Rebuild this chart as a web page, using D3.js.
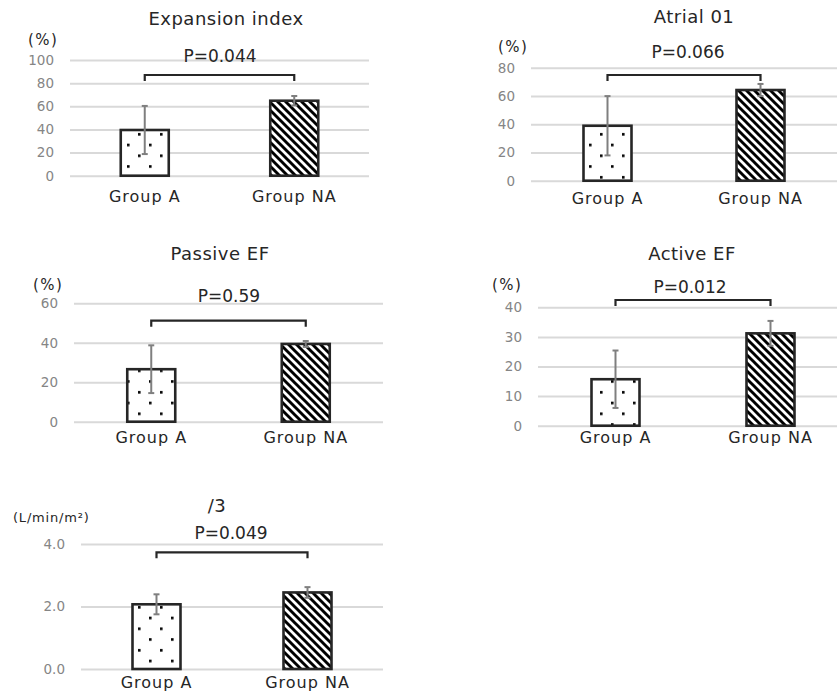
<!DOCTYPE html>
<html>
<head>
<meta charset="utf-8">
<script src="https://cdn.jsdelivr.net/npm/d3@7"></script>
<style>
  body { margin: 0; background: #fff; }
  svg { display: block; font-family: "DejaVu Sans", Verdana, sans-serif; }
</style>
</head>
<body>
<div id="chart"></div>
<script>
// data
const groups = ["Group A", "Group NA"]
const titles = ["Expansion index", "Atrial 01", "Passive EF", "Active EF", "/3"]
const units = ["(%)", "(%)", "(%)", "(%)", "(L/min/m\u00b2)"]
const pLabels = ["P=0.044", "P=0.066", "P=0.59", "P=0.012", "P=0.049"]
const means = [[39.5, 64.8], [38.9, 64.2], [26.6, 39.4], [15.7, 31.2], [2.07, 2.45]]
const sds = [[20.8, 4.1], [21.0, 4.3], [12.1, 1.5], [9.7, 4.2], [0.32, 0.17]]
const yMax = [100, 80, 60, 40, 4]
const yTicks = [
    [0, 20, 40, 60, 80, 100],
    [0, 20, 40, 60, 80],
    [0, 20, 40, 60],
    [0, 10, 20, 30, 40],
    [0, 2, 4]
]
const tickFormats = ["d", "d", "d", "d", ".1f"]

// where each small chart sits on the page
const layout = [
    { x0: 70, x1: 369, yTop: 60, y0: 175.7, titleX: 226, titleY: 25, unitX: 28, unitY: 45, pX: 220, pY: 62, bracketY: 75, labelY: 202 },
    { x0: 531, x1: 837, yTop: 67.7, y0: 180.7, titleX: 694, titleY: 23, unitX: 498, unitY: 52, pX: 688, pY: 58, bracketY: 75, labelY: 204 },
    { x0: 74, x1: 383, yTop: 303.3, y0: 421.7, titleX: 220, titleY: 260, unitX: 33, unitY: 290, pX: 229, pY: 302, bracketY: 320.7, labelY: 443 },
    { x0: 538, x1: 848, yTop: 307.3, y0: 425.7, titleX: 692, titleY: 260, unitX: 492, unitY: 290, pX: 690, pY: 293, bracketY: 300, labelY: 443 },
    { x0: 81, x1: 383, yTop: 544, y0: 669, titleX: 217, titleY: 512, unitX: 13, unitY: 522, pX: 231, pY: 539, bracketY: 552.3, labelY: 688 }
]

const width = 837, height = 694
const font = "'DejaVu Sans', Verdana, sans-serif"
const ink = "#262626"

const svg = d3.select("#chart")
    .append("svg")
    .attr("width", width)
    .attr("height", height)

// fill patterns: sparse dots for Group A, wide downward diagonal for Group NA
const defs = svg.append("defs")

const dots = defs.append("pattern")
    .attr("id", "dots")
    .attr("patternUnits", "userSpaceOnUse")
    .attr("width", 22)
    .attr("height", 21.5)
dots.append("rect").attr("width", 22).attr("height", 21.5).attr("fill", "#fff")
dots.append("rect").attr("x", 6).attr("y", 4).attr("width", 2.6).attr("height", 2.6).attr("fill", "#000")
dots.append("rect").attr("x", 17).attr("y", 14.7).attr("width", 2.6).attr("height", 2.6).attr("fill", "#000")

const stripes = defs.append("pattern")
    .attr("id", "stripes")
    .attr("patternUnits", "userSpaceOnUse")
    .attr("width", 8)
    .attr("height", 8)
stripes.append("rect").attr("width", 8).attr("height", 8).attr("fill", "#fff")
stripes.append("path")
    .attr("d", "M-1,-1 L9,9 M-3,5 L3,11 M5,-3 L11,3")
    .attr("stroke", "#000")
    .attr("stroke-width", 2.9)

const fills = ["url(#dots)", "url(#stripes)"]

function drawPanel(i) {
    const L = layout[i]

    const x = d3.scaleBand()
        .domain(groups)
        .range([L.x0, L.x1])

    const y = d3.scaleLinear()
        .domain([0, yMax[i]])
        .range([L.y0, L.yTop])

    const g = svg.append("g")

    // gridlines + tick labels
    const axis = g.append("g")
        .attr("transform", "translate(" + L.x0 + ",0)")
        .call(d3.axisLeft(y)
            .tickValues(yTicks[i])
            .tickFormat(d3.format(tickFormats[i]))
            .tickSizeInner(-(L.x1 - L.x0))
            .tickSizeOuter(0)
            .tickPadding(16))
        .attr("font-family", font)
        .attr("font-size", 13.5)
    axis.select(".domain").remove()
    axis.selectAll(".tick line").attr("stroke", "#d9d9d9").attr("stroke-width", 2)
    axis.selectAll(".tick text").attr("fill", "#858585")

    const bw = 48
    const rows = groups.map((k, j) => ({ group: k, mean: means[i][j], sd: sds[i][j], fill: fills[j] }))

    g.selectAll(".bar")
        .data(rows)
        .enter()
        .append("rect")
        .attr("class", "bar")
        .attr("x", d => x(d.group) + x.bandwidth() / 2 - bw / 2)
        .attr("y", d => y(d.mean))
        .attr("width", bw)
        .attr("height", d => y(0) - y(d.mean))
        .attr("fill", d => d.fill)
        .attr("stroke", ink)
        .attr("stroke-width", 2.6)

    // error bars
    const eb = g.selectAll(".err")
        .data(rows)
        .enter()
        .append("g")
        .attr("class", "err")
        .attr("stroke", "#7f7f7f")
        .attr("stroke-width", 2)

    eb.append("line")
        .attr("x1", d => x(d.group) + x.bandwidth() / 2)
        .attr("x2", d => x(d.group) + x.bandwidth() / 2)
        .attr("y1", d => y(d.mean - d.sd))
        .attr("y2", d => y(d.mean + d.sd))
    eb.append("line")
        .attr("x1", d => x(d.group) + x.bandwidth() / 2 - 3)
        .attr("x2", d => x(d.group) + x.bandwidth() / 2 + 3)
        .attr("y1", d => y(d.mean + d.sd))
        .attr("y2", d => y(d.mean + d.sd))
    eb.append("line")
        .attr("x1", d => x(d.group) + x.bandwidth() / 2 - 3)
        .attr("x2", d => x(d.group) + x.bandwidth() / 2 + 3)
        .attr("y1", d => y(d.mean - d.sd))
        .attr("y2", d => y(d.mean - d.sd))

    // significance bracket
    const bx1 = x(groups[0]) + x.bandwidth() / 2
    const bx2 = x(groups[1]) + x.bandwidth() / 2
    g.append("path")
        .attr("d", "M" + bx1 + "," + (L.bracketY + 6) + " V" + L.bracketY + " H" + bx2 + " V" + (L.bracketY + 6))
        .attr("fill", "none")
        .attr("stroke", ink)
        .attr("stroke-width", 2.2)

    g.append("text")
        .attr("x", L.pX)
        .attr("y", L.pY)
        .attr("text-anchor", "middle")
        .attr("fill", ink)
        .attr("font-family", font)
        .attr("font-size", 17)
        .text(pLabels[i])

    g.append("text")
        .attr("x", L.titleX)
        .attr("y", L.titleY)
        .attr("text-anchor", "middle")
        .attr("fill", ink)
        .attr("font-family", font)
        .attr("font-size", 18)
        .attr("letter-spacing", 0.5)
        .text(titles[i])

    g.append("text")
        .attr("x", L.unitX)
        .attr("y", L.unitY)
        .attr("fill", ink)
        .attr("font-family", font)
        .attr("font-size", i == 4 ? 13 : 15)
        .attr("letter-spacing", i == 4 ? 0.8 : 1.5)
        .text(units[i])

    g.selectAll(".group-label")
        .data(groups)
        .enter()
        .append("text")
        .attr("class", "group-label")
        .attr("x", d => x(d) + x.bandwidth() / 2)
        .attr("y", L.labelY)
        .attr("text-anchor", "middle")
        .attr("fill", ink)
        .attr("font-family", font)
        .attr("font-size", 16)
        .attr("letter-spacing", 1)
        .text(d => d)
}

titles.forEach((t, i) => drawPanel(i))
</script>
</body>
</html>
